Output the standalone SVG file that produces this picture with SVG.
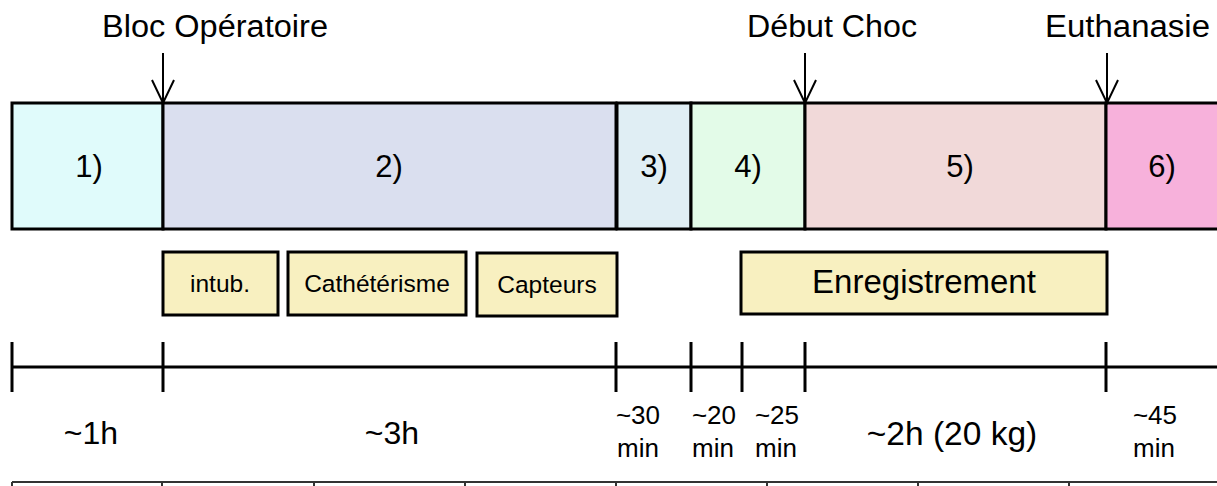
<svg xmlns="http://www.w3.org/2000/svg" width="1217" height="486" viewBox="0 0 1217 486">
<style>
text{font-family:"Liberation Sans",Arial,sans-serif;fill:#000}
.ph{stroke:#000;stroke-width:3}
.lbl{font-size:31px;text-anchor:middle}
.task{fill:#f8f0c0;stroke:#000;stroke-width:3}
.tk{font-size:24.5px;text-anchor:middle}
.tl{stroke:#000;stroke-width:3;fill:none}
.dur{font-size:32px;text-anchor:middle}
.sm{font-size:26px;text-anchor:middle}
.ev{font-size:31px}
.arr{stroke:#000;stroke-width:2;fill:none}
.tab{stroke:#333;stroke-width:2;fill:none}
</style>
<defs>
<marker id="vh" markerUnits="userSpaceOnUse" viewBox="0 0 26 24" markerWidth="26" markerHeight="24" refX="24" refY="12" orient="auto">
<path d="M1,1 L24,12 L1,23" fill="none" stroke="#000" stroke-width="2"/>
</marker>
</defs>
<g id="phase1"><rect class="ph" x="12" y="103" width="151" height="126" fill="#e0fbfb"/><text class="lbl" x="89" y="177">1)</text></g>
<g id="phase2"><rect class="ph" x="163" y="103" width="453" height="126" fill="#dadfef"/><text class="lbl" x="389" y="177">2)</text></g>
<g id="phase3"><rect class="ph" x="617" y="103" width="74" height="126" fill="#e0eef4"/><text class="lbl" x="654" y="177">3)</text></g>
<g id="phase4"><rect class="ph" x="691" y="103" width="114" height="126" fill="#e3fbe8"/><text class="lbl" x="748" y="177">4)</text></g>
<g id="phase5"><rect class="ph" x="805" y="103" width="301" height="126" fill="#f1d9d9"/><text class="lbl" x="960" y="177">5)</text></g>
<g id="phase6"><rect class="ph" x="1106" y="103" width="120" height="126" fill="#f7b1db"/><text class="lbl" x="1162" y="177">6)</text></g>
<g id="ev-bloc"><text class="ev" x="102" y="37" textLength="226" lengthAdjust="spacingAndGlyphs">Bloc Opératoire</text></g>
<g id="ev-choc"><text class="ev" x="747" y="37" textLength="170" lengthAdjust="spacingAndGlyphs">Début Choc</text></g>
<g id="ev-euth"><text class="ev" x="1045" y="37" textLength="165" lengthAdjust="spacingAndGlyphs">Euthanasie</text></g>
<g id="task-intub"><rect class="task" x="163" y="252" width="115" height="63"/><text class="tk" x="220" y="292">intub.</text></g>
<g id="task-cath"><rect class="task" x="288" y="252" width="178" height="63"/><text class="tk" x="377" y="292">Cathétérisme</text></g>
<g id="task-capt"><rect class="task" x="477" y="253" width="140" height="63"/><text class="tk" x="547" y="293">Capteurs</text></g>
<g id="task-enreg"><rect class="task" x="741" y="252" width="366" height="62"/><text x="924" y="293" font-size="33" text-anchor="middle">Enregistrement</text></g>
<g id="connectors">
<line class="arr" x1="163" y1="53" x2="163" y2="103" marker-end="url(#vh)"/>
<line class="arr" x1="805" y1="53" x2="805" y2="103" marker-end="url(#vh)"/>
<line class="arr" x1="1107" y1="53" x2="1107" y2="103" marker-end="url(#vh)"/>
</g>
<g id="timeline">
<path class="tl" d="M12,367 H1217 M12,342 V392 M163,342 V392 M616,342 V392 M691,342 V392 M742,342 V392 M805,342 V392 M1106,342 V392"/>
<text class="dur" x="91" y="444">~1h</text>
<text class="dur" x="392" y="444">~3h</text>
<text class="sm" x="638" y="424">~30</text><text class="sm" x="638" y="457">min</text>
<text class="sm" x="714" y="424">~20</text><text class="sm" x="713" y="457">min</text>
<text class="sm" x="777" y="424">~25</text><text class="sm" x="776" y="457">min</text>
<text x="952" y="445" font-size="33.5" text-anchor="middle">~2h (20 kg)</text>
<text class="sm" x="1155" y="424">~45</text><text class="sm" x="1154" y="457">min</text>
</g>
<g id="table">
<path class="tab" d="M12,482 H1217 M12,482 V486 M162,482 V486 M314,482 V486 M465,482 V486 M616,482 V486 M767,482 V486 M918,482 V486 M1069,482 V486"/>
</g>
</svg>
